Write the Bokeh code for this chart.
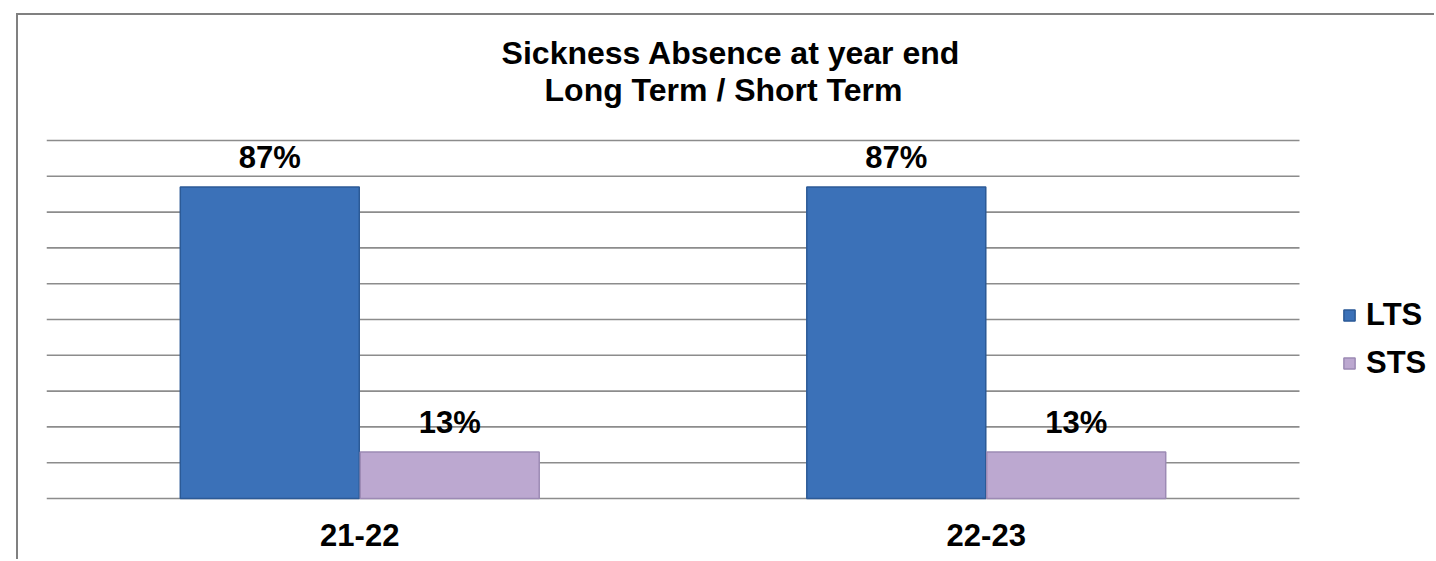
from bokeh.plotting import figure
from bokeh.models import (Range1d, FixedTicker, ColumnDataSource, LabelSet,
                          Legend, LegendItem, Label)
from bokeh.transform import dodge
from bokeh.core.properties import value
from bokeh.embed import file_html
from bokeh.resources import INLINE

# ---- data ----
years = ["21-22", "22-23"]
lts = [87, 87]
sts = [13, 13]
lts_labels = ["87%", "87%"]
sts_labels = ["13%", "13%"]
y_ticks = [0, 10, 20, 30, 40, 50, 60, 70, 80, 90, 100]
title_lines = ["Sickness Absence at  year end", "Long Term / Short Term"]
series_names = ["LTS", "STS"]

FONT = "Liberation Sans"
FS = "31px"
LTS_COLOR = "#3B71B8"
STS_COLOR = "#BCA8D0"

# category slots: one unit per year, centred at i + 0.5
n = len(years)
centers = [i + 0.5 for i in range(n)]
src = ColumnDataSource(dict(xc=centers, lts=lts, sts=sts, lts_lab=lts_labels, sts_lab=sts_labels))
grid_src = ColumnDataSource(dict(x0=[0] * len(y_ticks), x1=[n] * len(y_ticks), y=y_ticks))

# frame: plot area (n units) plus a strip on the right for the legend; region above 100 holds the title
legend_strip = 137 / 626.5
p = figure(x_range=Range1d(0, n + legend_strip), y_range=Range1d(-0.56, 134.92),
           width=1418, height=546, output_backend="svg", toolbar_location=None,
           min_border_left=28, min_border_right=0, min_border_top=0, min_border_bottom=61)
p.styles = {"border-left": "2px solid #808080", "border-top": "2px solid #808080",
            "margin-left": "16px", "margin-top": "13px"}

# horizontal gridlines across the category area only
p.segment(x0="x0", x1="x1", y0="y", y1="y", source=grid_src, line_color="#8C8C8C", line_width=1.6)

off = 0.1436
w = 0.2857
r1 = p.vbar(x=dodge("xc", -off), top="lts", width=w, source=src,
            fill_color=LTS_COLOR, line_color="#2C5A96", line_width=1.5)
r2 = p.vbar(x=dodge("xc", off), top="sts", width=w, source=src,
            fill_color=STS_COLOR, line_color="#9C8AB4", line_width=1.5)

for col, lab, o in (("lts", "lts_lab", -off), ("sts", "sts_lab", off)):
    ls = LabelSet(x=dodge("xc", o), y=col, text=lab, source=src,
                  text_align="center", text_baseline="bottom", y_offset=12,
                  text_font=value(FONT), text_font_size=value(FS), text_font_style="bold",
                  text_color="black")
    p.add_layout(ls)

p.xgrid.visible = False
p.ygrid.visible = False
p.yaxis.visible = False
p.outline_line_color = None

p.xaxis.ticker = FixedTicker(ticks=centers)
p.xaxis.major_label_overrides = {c: y for c, y in zip(centers, years)}
p.xaxis.axis_line_color = None
p.xaxis.major_tick_line_color = None
p.xaxis.minor_tick_line_color = None
p.xaxis.major_label_text_font = FONT
p.xaxis.major_label_text_font_size = FS
p.xaxis.major_label_text_font_style = "bold"
p.xaxis.major_label_text_color = "black"
p.xaxis.major_label_standoff = 17

# two-line title (screen position relative to the frame)
title_x = [689, 677]
title_y = [448, 411]
for t, tx, ty in zip(title_lines, title_x, title_y):
    p.add_layout(Label(x=tx, y=ty, x_units="screen", y_units="screen", text=t,
                       text_align="center", text_baseline="middle",
                       text_font=FONT, text_font_size="32px", text_font_style="bold",
                       text_color="black"))

legend = Legend(items=[LegendItem(label=series_names[0], renderers=[r1]),
                       LegendItem(label=series_names[1], renderers=[r2])],
                location=(1296, 119), orientation="vertical",
                glyph_width=14, glyph_height=14, label_standoff=10, spacing=12,
                padding=0, margin=0, border_line_color=None, background_fill_alpha=0,
                label_text_font=FONT, label_text_font_size=FS, label_text_font_style="bold",
                label_text_color="black")
p.add_layout(legend)

open("out.html", "w").write(file_html(p, INLINE))
